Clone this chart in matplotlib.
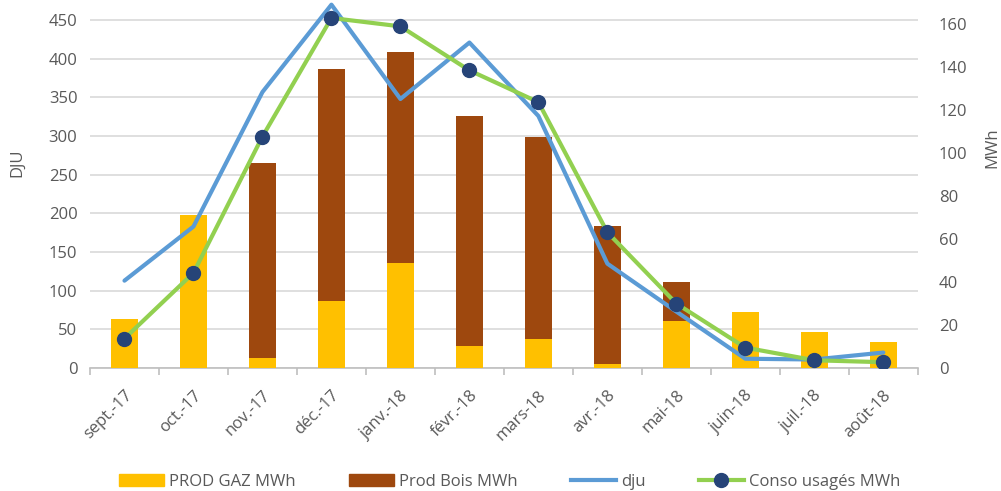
import numpy as np
from matplotlib import pyplot as plt
from matplotlib.patches import Patch
from matplotlib.lines import Line2D

plt.rcParams['font.family'] = ['Open Sans', 'DejaVu Sans']

# Mois de la saison de chauffe
mois = ["sept.-17", "oct.-17", "nov.-17", "déc.-17", "janv.-18", "févr.-18",
        "mars-18", "avr.-18", "mai-18", "juin-18", "juil.-18", "août-18"]

# Production (MWh)
prod_gaz = [22.6, 71.3, 4.7, 31.1, 49.0, 10.3, 13.7, 2.0, 21.9, 26.1, 16.7, 12.3]
prod_bois = [0, 0, 90.8, 108.3, 98.2, 107.2, 94.1, 64.3, 18.0, 0, 0, 0]

# Degres jours unifies
dju = [113, 183, 357, 470, 348, 421, 326, 135, 73, 12, 11, 20]

# Consommation usages (MWh)
conso = [13.7, 44.3, 107.8, 163.0, 159.1, 138.6, 123.8, 63.2, 30.0, 9.5, 3.6, 2.7]

gris = '#595959'
x = np.arange(len(mois))

fig = plt.figure(figsize=(10.01, 4.91), dpi=100)
ax = fig.add_axes([0.0899, 0.2505, 0.827, 0.7872])
ax2 = ax.twinx()

# axe gauche DJU avec la grille
ax.set_ylim(0, 500)
ax.set_yticks(np.arange(0, 451, 50))
ax.grid(axis='y', color='#D9D9D9', linewidth=1.2)
ax.set_axisbelow(True)
ax.set_xlim(-0.5, len(mois) - 0.5)

# barres empilees sur l'axe MWh
ax2.set_ylim(0, 180)
ax2.set_yticks(np.arange(0, 161, 20))
ax2.bar(x, prod_gaz, width=0.39, color='#FFC000', zorder=1)
ax2.bar(x, prod_bois, width=0.39, bottom=prod_gaz, color='#9E480E', zorder=1)

# courbe dju tracee dans l'echelle de l'axe gauche
ax2.plot(x, dju, color='#5B9BD5', linewidth=3, transform=ax.transData, zorder=2,
         solid_capstyle='round')
ax2.plot(x, conso, color='#92D050', linewidth=3, marker='o', markersize=10,
         markerfacecolor='#264478', markeredgecolor='#264478', zorder=3,
         solid_capstyle='round')

for a in (ax, ax2):
    for s in a.spines.values():
        s.set_visible(False)
ax.spines['bottom'].set_visible(True)
ax.spines['bottom'].set_color('#BFBFBF')
ax.spines['bottom'].set_linewidth(1.2)

ax.set_xticks(x)
ax.set_xticklabels(mois, rotation=45, ha='right', rotation_mode='anchor')
ax.set_xticks(np.arange(-0.5, len(mois), 1), minor=True)
ax.tick_params(axis='x', which='major', length=0, pad=14, labelsize=12, labelcolor=gris)
ax.tick_params(axis='x', which='minor', length=5, color='#BFBFBF', width=1.2)
ax.tick_params(axis='y', length=0, pad=9, labelsize=12, labelcolor=gris)
ax2.tick_params(axis='y', length=0, pad=15, labelsize=12, labelcolor=gris)

ax.set_ylabel('DJU', fontsize=12, color=gris)
ax.yaxis.set_label_coords(-0.078, 0.53)
ax2.set_ylabel('MWh', fontsize=12, color=gris)
ax2.yaxis.set_label_coords(1.08, 0.57)

handles = [Patch(color='#FFC000'), Patch(color='#9E480E'),
           Line2D([], [], color='#5B9BD5', linewidth=3),
           Line2D([], [], color='#92D050', linewidth=3, marker='o', markersize=10,
                  markerfacecolor='#264478', markeredgecolor='#264478')]
labels = ['PROD GAZ MWh', 'Prod Bois MWh', 'dju', 'Conso usagés MWh']
fig.legend(handles, labels, loc='center', bbox_to_anchor=(0.509, 0.018), ncol=4,
           frameon=False, fontsize=12, handlelength=2.7, columnspacing=3.2,
           handletextpad=0.3, labelcolor=gris)

fig.savefig('out.png', dpi=100)
